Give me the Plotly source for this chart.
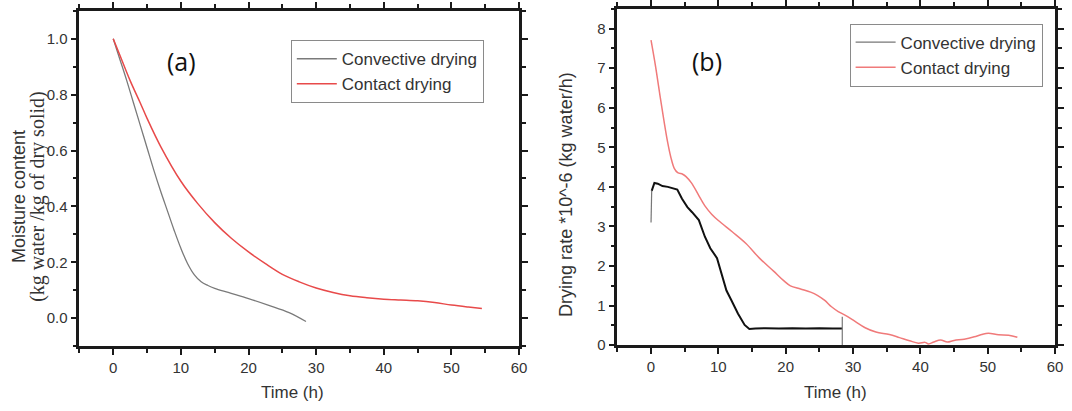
"""
Drying curves: moisture content (a) and drying rate (b)
convective vs contact drying
"""

import plotly.graph_objects as go

# ---- data ----
# (a) moisture content, kg water / kg dry solid
conv_mc_t = [0, 1, 2, 3, 4, 5, 6, 7, 8, 9, 10, 11, 12, 13, 14, 15, 17, 20, 23, 26, 28.5]
conv_mc = [1.0, 0.925, 0.85, 0.77, 0.69, 0.61, 0.53, 0.455, 0.385, 0.315, 0.25, 0.195,
           0.155, 0.13, 0.117, 0.107, 0.092, 0.07, 0.046, 0.02, -0.012]

cont_mc_t = [0, 1, 2.5, 4, 5, 7, 10, 12.5, 15, 17.5, 20, 22.5, 25, 27.5, 30, 32.5, 35,
             37.5, 40, 42.5, 45, 47.5, 50, 52.5, 54.5]
cont_mc = [1.0, 0.94, 0.85, 0.77, 0.715, 0.615, 0.49, 0.41, 0.342, 0.285, 0.237, 0.195,
           0.157, 0.13, 0.108, 0.092, 0.08, 0.073, 0.068, 0.065, 0.062, 0.056, 0.047,
           0.04, 0.035]

# (b) drying rate *10^-6, kg water / h
conv_rate_t = [0.1, 0.5, 1.0, 1.7, 2.5, 3.2, 3.9, 4.6, 5.4, 6.1, 7.1, 8.0, 8.8, 9.8,
               10.5, 11.2, 11.95, 12.9, 13.9, 14.6, 15.5, 17, 19, 21, 23, 25, 27, 28.4]
conv_rate = [3.9, 4.1, 4.08, 4.02, 4.0, 3.96, 3.93, 3.7, 3.49, 3.36, 3.16, 2.74,
             2.45, 2.2, 1.79, 1.38, 1.13, 0.8, 0.51, 0.41, 0.42, 0.43, 0.42, 0.43, 0.42,
             0.43, 0.42, 0.42]
# thin start / end jumps of the convective rate record
conv_jump_t = [0, 0.1, None, 28.4, 28.4]
conv_jump = [3.1, 3.9, None, 0.72, 0.0]

cont_rate_t = [0, 0.66, 1.4, 1.93, 2.43, 2.94, 3.45, 3.96, 4.7, 5.2, 6.0, 7.0, 8.0, 9.0,
               10.0, 12.1, 14.1, 16.1, 18.2, 19.7, 20.7, 22.2, 23.7, 24.7, 25.8, 26.8,
               27.8, 28.8, 30.3, 31.8, 33.4, 35.4, 36.9, 38.4, 39.7, 40.7, 41.2, 42,
               43, 44, 45, 46.5, 48, 49.1, 50.1, 51.6, 53.1, 54.4]
cont_rate = [7.71, 7.06, 6.23, 5.66, 5.16, 4.75, 4.47, 4.36, 4.32, 4.26, 4.1, 3.81, 3.52,
             3.31, 3.15, 2.86, 2.57, 2.2, 1.87, 1.63, 1.5, 1.42, 1.34, 1.26, 1.13, 0.97,
             0.85, 0.76, 0.6, 0.44, 0.33, 0.27, 0.19, 0.11, 0.05, 0.07, 0.03, 0.08,
             0.13, 0.08, 0.12, 0.15, 0.21, 0.27, 0.3, 0.26, 0.25, 0.2]

W, H = 1072, 411
AX = '#1a1a1a'
TXT = '#333333'
SANS = 'Liberation Sans, Arial, sans-serif'

fig = go.Figure()

# (a)
fig.add_trace(go.Scatter(x=conv_mc_t, y=conv_mc, mode='lines', name='Convective drying',
                         line=dict(color='#7a7a7a', width=1.3, shape='spline'),
                         legend='legend', xaxis='x', yaxis='y'))
fig.add_trace(go.Scatter(x=cont_mc_t, y=cont_mc, mode='lines', name='Contact drying',
                         line=dict(color='#e84a4a', width=1.5, shape='spline'),
                         legend='legend', xaxis='x', yaxis='y'))
# (b)
fig.add_trace(go.Scatter(x=conv_rate_t, y=conv_rate, mode='lines', name='Convective drying',
                         line=dict(color='#111111', width=2),
                         showlegend=False, xaxis='x2', yaxis='y2'))
fig.add_trace(go.Scatter(x=conv_jump_t, y=conv_jump, mode='lines', name='Convective drying',
                         line=dict(color='#777777', width=1.2),
                         legend='legend2', xaxis='x2', yaxis='y2'))
fig.add_trace(go.Scatter(x=cont_rate_t, y=cont_rate, mode='lines', name='Contact drying',
                         line=dict(color='#f07a7a', width=1.5, shape='spline'),
                         legend='legend2', xaxis='x2', yaxis='y2'))

dom_x1 = [80 / W, 523 / W]
dom_y1 = [(H - 353) / H, (H - 11) / H]
dom_x2 = [622 / W, 1063 / W]
dom_y2 = [(H - 352) / H, (H - 9) / H]


def base_axis(rng, dtick, minor_dtick):
    return dict(range=rng, dtick=dtick, tick0=0, ticks='outside', ticklen=6, tickwidth=2,
                tickcolor=AX, showgrid=False, zeroline=False,
                showline=True, linecolor=AX, linewidth=2.5, mirror='allticks',
                tickfont=dict(family=SANS, size=15, color=TXT),
                minor=dict(dtick=minor_dtick, tick0=0, ticks='outside', ticklen=4,
                           tickwidth=2, tickcolor=AX, showgrid=False))


xa1 = base_axis([-5, 60], 10, 5)
xa1.update(domain=dom_x1, anchor='y')
ya1 = base_axis([-0.1, 1.1], 0.2, 0.1)
ya1.update(domain=dom_y1, anchor='x', tickformat='.1f')
xa2 = base_axis([-5, 60], 10, 5)
xa2.update(domain=dom_x2, anchor='y2')
ya2 = base_axis([0, 8.5], 1, 0.5)
ya2.update(domain=dom_y2, anchor='x2')

legend_style = dict(bgcolor='rgba(255,255,255,0)', bordercolor='#8a8a8a', borderwidth=1,
                    font=dict(family=SANS, size=17, color=TXT),
                    xanchor='left', yanchor='top', itemwidth=40)

fig.update_layout(
    template='simple_white',
    width=W, height=H,
    margin=dict(l=0, r=0, t=0, b=0),
    paper_bgcolor='white', plot_bgcolor='white',
    showlegend=True,
    xaxis=xa1, yaxis=ya1, xaxis2=xa2, yaxis2=ya2,
    legend=dict(legend_style, x=293 / W, y=(H - 41) / H),
    legend2=dict(legend_style, x=856 / W, y=(H - 24) / H),
)

# titles and panel labels
notes = [
    dict(x=183 / W, y=(H - 62) / H, text='(a)', font=dict(family='Open Sans', size=25, color='#111')),
    dict(x=712 / W, y=(H - 62) / H, text='(b)', font=dict(family='Open Sans', size=25, color='#111')),
    dict(x=295 / W, y=(H - 400) / H, text='Time (h)', font=dict(family=SANS, size=17, color=TXT)),
    dict(x=842 / W, y=(H - 400) / H, text='Time (h)', font=dict(family=SANS, size=17, color=TXT)),
    dict(x=19 / W, y=(H - 200) / H, text='Moisture content', textangle=-90,
         font=dict(family=SANS, size=18, color=TXT)),
    dict(x=37 / W, y=(H - 200) / H, text='(kg water /kg of dry solid)', textangle=-90,
         font=dict(family='Liberation Serif, serif', size=20, color=TXT)),
    dict(x=570 / W, y=(H - 198) / H, text='Drying rate *10^-6 (kg water/h)', textangle=-90,
         font=dict(family=SANS, size=18, color=TXT)),
]
for n in notes:
    fig.add_annotation(xref='paper', yref='paper', showarrow=False,
                       xanchor='center', yanchor='middle', **n)

# drop the default page margin so the figure sits at the window's top-left corner
fig.write_html("out.html", config={'displayModeBar': False},
               post_script="document.body.style.margin='0px';")
